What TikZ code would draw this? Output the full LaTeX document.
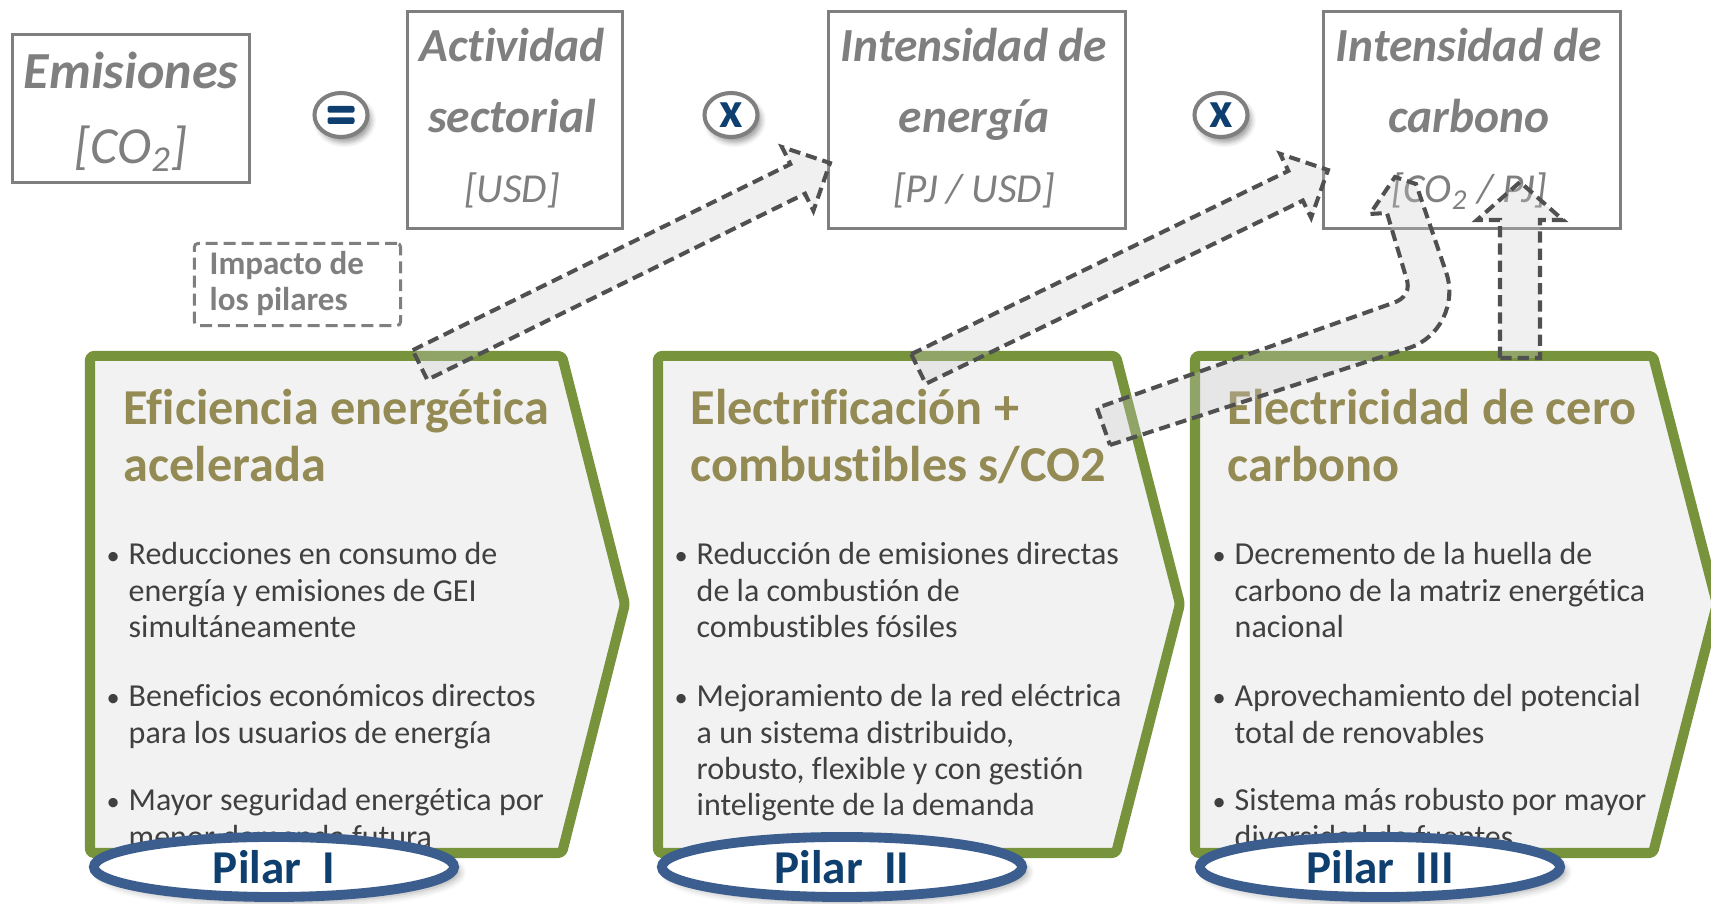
\documentclass[tikz,border=0pt]{standalone}
\usepackage{fontspec}
\setmainfont{Carlito}[Ligatures=NoCommon]
\usetikzlibrary{calc,shapes.geometric,shadows.blur}
\definecolor{boxgray}{HTML}{7F7F7F}
\definecolor{chevgreen}{HTML}{77933C}
\definecolor{chevfill}{HTML}{F2F2F2}
\definecolor{titleol}{HTML}{948A54}
\definecolor{bodytxt}{HTML}{404040}
\definecolor{pilarblue}{HTML}{3B5E8E}
\definecolor{pilartxt}{HTML}{0E3F6F}
\definecolor{dashgray}{HTML}{505050}

\newcommand\blockarr[6]{%
  \coordinate (#1-b) at ($(#3)!#6!(#2)$);
  \path[darrow] ($(#2)!#4!90:(#3)$) -- ($(#1-b)!#4!-90:(#2)$) -- ($(#1-b)!#5!-90:(#2)$) -- (#3)
    -- ($(#1-b)!#5!90:(#2)$) -- ($(#1-b)!#4!90:(#2)$) -- ($(#2)!#4!-90:(#3)$) -- cycle;
}
\newcommand\bpar[5]{%
  \node[bdot] (#1) at (#2,#4) {\textbullet};
  \foreach \ln [count=\k from 0] in {#5} {
    \node[btxt] (#1-\k) at (#3, #4+\k*36.3) {\ln};
  }
}

\begin{document}
\begin{tikzpicture}[x=0.01cm,y=-0.01cm,
  fbox/.style={draw=boxgray, line width=0.85pt, inner sep=0, fill=white},
  fbig/.style={text=boxgray, font=\fontsize{14.8}{17}\selectfont\bfseries\itshape, anchor=base, inner sep=0},
  fbigu/.style={text=boxgray, font=\fontsize{14.8}{17}\selectfont\itshape, anchor=base, inner sep=0},
  ftext/.style={text=boxgray, font=\fontsize{13.5}{16}\selectfont\bfseries\itshape, anchor=base, inner sep=0},
  funit/.style={text=boxgray, font=\fontsize{11.7}{14}\selectfont\itshape, anchor=base, inner sep=0},
  opc/.style={ellipse, draw=boxgray, line width=1.15pt, fill=white, minimum width=0.53cm, minimum height=0.44cm, inner sep=0,
    blur shadow={shadow xshift=1pt, shadow yshift=-1.5pt, shadow blur radius=1.5pt, shadow opacity=40},
    text=pilartxt, font=\fontsize{14.5}{16}\selectfont\bfseries},
  impbox/.style={draw=boxgray, line width=0.85pt, dash pattern=on 3.4pt off 1.7pt, rounded corners=1pt, inner sep=0},
  imptxt/.style={text=boxgray, font=\fontsize{9.4}{11}\selectfont\bfseries, anchor=base west, inner sep=0},
  chev/.style={fill=chevfill, draw=chevgreen, line width=2.85pt, line join=round, rounded corners=1pt},
  ttl/.style={text=titleol, font=\fontsize{14.3}{17}\selectfont\bfseries, anchor=base west, inner sep=0},
  btxt/.style={text=bodytxt, font=\fontsize{9.1}{11}\selectfont, anchor=base west, inner sep=0},
  bdot/.style={text=bodytxt, font=\fontsize{7.5}{9}\selectfont, anchor=base west, inner sep=0},
  darrow/.style={draw=dashgray, line width=1.15pt, dash pattern=on 3.2pt off 1.7pt, fill=black!20, fill opacity=0.3, line join=miter},
  pilar/.style={ellipse, draw=pilarblue, line width=2.8pt, fill=white, minimum width=3.6cm, minimum height=0.6cm, inner sep=0,
    blur shadow={shadow xshift=1.5pt, shadow yshift=-1.5pt, shadow blur radius=2pt, shadow opacity=35},
    text=pilartxt, font=\fontsize{13.4}{16}\selectfont\bfseries}
]
\useasboundingbox (0,0) rectangle (1711,904);
\clip (0,0) rectangle (1711,904);

% formula boxes
\node[fbox, minimum width=2.37cm, minimum height=1.48cm] (emis) at (131,108.5) {};
\node[fbig] (emis-a) at (131,89) {Emisiones};
\node[fbigu] (emis-b) at (131,164) {[CO\textsubscript{2}]};

\node[fbox, minimum width=2.15cm, minimum height=2.17cm] (act) at (515,120) {};
\node[ftext] (act-a) at (512,62) {Actividad};
\node[ftext] (act-b) at (512,133) {sectorial};
\node[funit] (act-c) at (512,203) {[USD]};

\node[fbox, minimum width=2.97cm, minimum height=2.17cm] (ener) at (977,120) {};
\node[ftext] (ener-a) at (974,62) {Intensidad de};
\node[ftext] (ener-b) at (974,133) {energía};
\node[funit] (ener-c) at (974,203) {[PJ / USD]};

\node[fbox, minimum width=2.97cm, minimum height=2.17cm] (carb) at (1472,120) {};
\node[ftext] (carb-a) at (1469,62) {Intensidad de};
\node[ftext] (carb-b) at (1469,133) {carbono};
\node[funit] (carb-c) at (1469,203) {[CO\textsubscript{2} / PJ]};

% operators
\node[opc] (eq) at (341,115) {};
\fill[pilartxt, rounded corners=0.6pt] ($(eq)+(-13.5,-9)$) rectangle ($(eq)+(13.5,-2.3)$);
\fill[pilartxt, rounded corners=0.6pt] ($(eq)+(-13.5,2.3)$) rectangle ($(eq)+(13.5,9)$);
\node[opc] (x1) at (731,115) {x};
\node[opc] (x2) at (1221,115) {x};

% impacto box
\node[impbox, minimum width=2.06cm, minimum height=0.82cm] (imp) at (297.5,284.5) {};
\node[imptxt] (imp-a) at (209,275) {Impacto de};
\node[imptxt] (imp-b) at (209,311) {los pilares};

% chevrons
\path[chev] (90,356) -- (562,356) -- (625,604) -- (562,853) -- (90,853) -- cycle;
\path[chev] (658,356) -- (1116,356) -- (1180,604) -- (1116,853) -- (658,853) -- cycle;
\path[chev] (1195,356) -- (1653,356) -- (1717,604) -- (1653,853) -- (1195,853) -- cycle;

% titles
\node[ttl] (t1a) at (123,425) {Eficiencia energética};
\node[ttl] (t1b) at (123,482) {acelerada};
\node[ttl] (t2a) at (690,425) {Electrificación +};
\node[ttl] (t2b) at (690,482) {combustibles s/CO2};
\node[ttl] (t3a) at (1227,425) {Electricidad de cero};
\node[ttl] (t3b) at (1227,482) {carbono};

% bullets
\bpar{a1}{106}{128}{565}{Reducciones en consumo de, energía y emisiones de GEI, simultáneamente}
\bpar{a2}{106}{128}{707}{Beneficios económicos directos, para los usuarios de energía}
\bpar{a3}{106}{128}{811}{Mayor seguridad energética por, menor demanda futura}
\bpar{b1}{674}{696}{565}{Reducción de emisiones directas, de la combustión de, combustibles fósiles}
\bpar{b2}{674}{696}{707}{Mejoramiento de la red eléctrica, {a un sistema distribuido,}, {robusto, flexible y con gestión}, inteligente de la demanda}
\bpar{c1}{1212}{1234}{565}{Decremento de la huella de, carbono de la matriz energética, nacional}
\bpar{c2}{1212}{1234}{707}{Aprovechamiento del potencial, total de renovables}
\bpar{c3}{1212}{1234}{811}{Sistema más robusto por mayor, diversidad de fuentes}

% impact arrows
\coordinate (a1t) at (420,365);
\coordinate (a1h) at (830,163);
\blockarr{ar1}{a1t}{a1h}{0.165cm}{0.355cm}{0.36cm}
\coordinate (a2t) at (918.5,369);
\coordinate (a2h) at (1328,170);
\blockarr{ar2}{a2t}{a2h}{0.165cm}{0.355cm}{0.36cm}
\coordinate (a4t) at (1520,358);
\coordinate (a4h) at (1520,182);
\blockarr{ar4}{a4t}{a4h}{0.2cm}{0.43cm}{0.38cm}
% bent arrow
\path[darrow] (1110,445) -- (1409,348) .. controls (1440,338) and (1457,303) .. (1446,272)
  -- (1416,184) -- (1395,177) -- (1370,214) -- (1387,213) -- (1406,277)
  .. controls (1411,290) and (1405,299) .. (1393,303) -- (1097,408) -- cycle;

% pillar labels
\node[pilar] (p1) at (274,867) {Pilar\ \ I};
\node[pilar] (p2) at (842,867) {Pilar\ \ II};
\node[pilar] (p3) at (1380,867) {Pilar\ \ III};
\end{tikzpicture}
\end{document}
